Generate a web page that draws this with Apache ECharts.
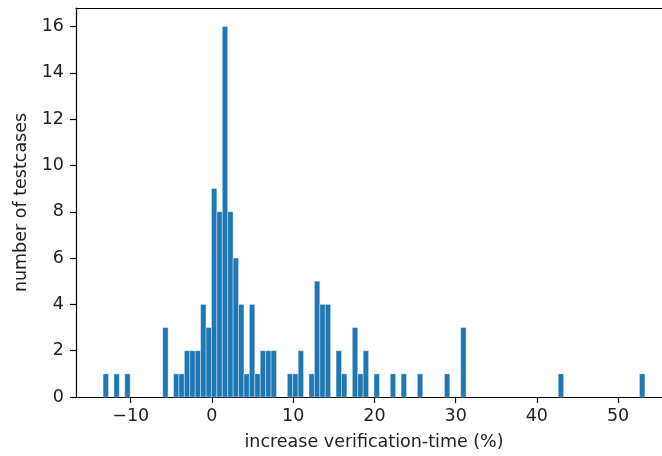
<!DOCTYPE html>
<html>
<head>
<meta charset="utf-8">
<script src="https://cdn.jsdelivr.net/npm/echarts@6/dist/echarts.min.js"></script>
<style>
    html, body { margin: 0; padding: 0; background: #fff; overflow: hidden; }
    /* the reference is cropped on the right, so the canvas runs past the window */
    #container1 { width: 680px; height: 456px; }
</style>
</head>
<body>
<div id="container1"></div>
<script>
// histogram: 100 bins between binMin and binMax
var binMin = -13.4;
var binMax = 53.3;
var counts = [
    1, 0, 1, 0, 1, 0, 0, 0, 0, 0,
    0, 3, 0, 1, 1, 2, 2, 2, 4, 3,
    9, 8, 16, 8, 6, 4, 1, 4, 1, 2,
    2, 2, 0, 0, 1, 1, 2, 0, 1, 5,
    4, 4, 0, 2, 1, 0, 3, 1, 2, 0,
    1, 0, 0, 1, 0, 1, 0, 0, 1, 0,
    0, 0, 0, 1, 0, 0, 3, 0, 0, 0,
    0, 0, 0, 0, 0, 0, 0, 0, 0, 0,
    0, 0, 0, 0, 1, 0, 0, 0, 0, 0,
    0, 0, 0, 0, 0, 0, 0, 0, 0, 1
];
var xTicks = [-10, 0, 10, 20, 30, 40, 50];
var yTicks = [0, 2, 4, 6, 8, 10, 12, 14, 16];

function Chart1_Init() {
    var myChart = echarts.init(document.getElementById("container1"));
    var binWidth = (binMax - binMin) / counts.length;
    var pad = (binMax - binMin) * 0.05;
    var data = [];
    for (var i = 0; i < counts.length; i++) {
        if (counts[i] > 0) {
            data.push([binMin + i * binWidth, binMin + (i + 1) * binWidth, counts[i]]);
        }
    }
    var textStyle = { fontFamily: 'DejaVu Sans', fontSize: 17.5, color: '#222' };
    option = {
        animation: false,
        grid: {
            left: 76,
            top: 8,
            right: 8,
            bottom: 59
        },
        xAxis: [
            {
                type: 'value',
                min: binMin - pad,
                max: binMax + pad,
                name: 'increase verification-time (%)',
                nameLocation: 'middle',
                nameGap: 36,
                nameTextStyle: textStyle,
                axisLine: { onZero: false, lineStyle: { color: '#000', width: 1.2 } },
                axisTick: { show: true, inside: false, length: 6, customValues: xTicks, lineStyle: { color: '#000', width: 1.2 } },
                axisLabel: { customValues: xTicks, margin: 10, fontFamily: 'DejaVu Sans', fontSize: 17.5, color: '#222',
                    formatter: function (v) { return v < 0 ? '\u2212' + (-v) : '' + v; } },
                splitLine: { show: false }
            },
            {
                // top spine only
                type: 'value',
                position: 'top',
                min: binMin - pad,
                max: binMax + pad,
                axisLine: { show: true, onZero: false, lineStyle: { color: '#000', width: 1.2 } },
                axisTick: { show: false },
                axisLabel: { show: false },
                splitLine: { show: false }
            }
        ],
        yAxis: {
            type: 'value',
            min: 0,
            max: 16.8,
            name: 'number of testcases',
            nameLocation: 'middle',
            nameGap: 39,
            nameTextStyle: textStyle,
            axisLine: { show: true, onZero: false, lineStyle: { color: '#000', width: 1.2 } },
            axisTick: { show: true, inside: false, length: 6, customValues: yTicks, lineStyle: { color: '#000', width: 1.2 } },
            axisLabel: { customValues: yTicks, margin: 12, fontFamily: 'DejaVu Sans', fontSize: 17.5, color: '#222' },
            splitLine: { show: false }
        },
        series: [
            {
                type: 'custom',
                data: data,
                encode: { x: [0, 1], y: 2 },
                renderItem: function (params, api) {
                    var p0 = api.coord([api.value(0), 0]);
                    var p1 = api.coord([api.value(1), api.value(2)]);
                    return {
                        type: 'rect',
                        shape: { x: p0[0], y: p1[1], width: p1[0] - p0[0], height: p0[1] - p1[1] },
                        style: { fill: '#1f77b4', stroke: '#ffffff', lineWidth: 0.4 }
                    };
                }
            }
        ]
    };
    myChart.setOption(option);
}
Chart1_Init();
</script>
</body>
</html>
